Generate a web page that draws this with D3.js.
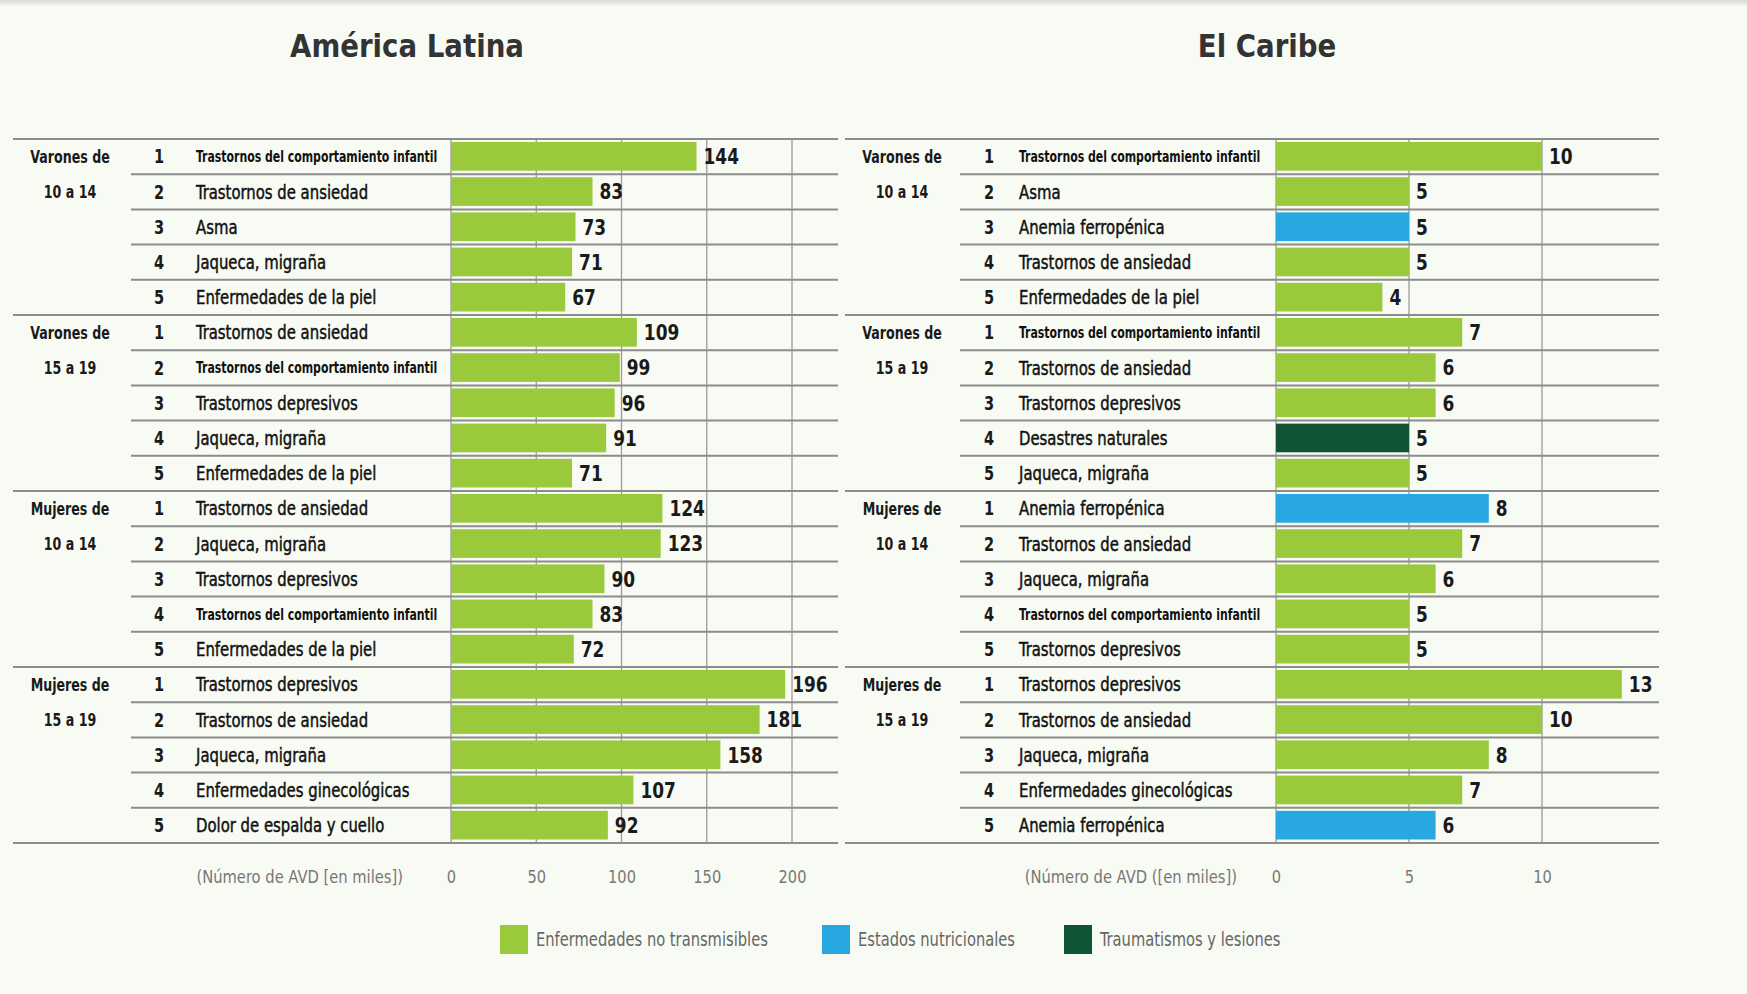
<!DOCTYPE html>
<html>
<head>
<meta charset="utf-8">
<script src="https://cdn.jsdelivr.net/npm/d3@7"></script>
<style>
  body { margin: 0; background: #f8fbf3; }
  svg { display: block; }
  text { font-family: "Liberation Sans Narrow", "DejaVu Sans Condensed", "Liberation Sans", sans-serif; font-stretch: condensed; }
</style>
</head>
<body>
<div id="chart"></div>
<script>
// grupos de edad
const groupLabels = [["Varones de", "10 a 14"], ["Varones de", "15 a 19"], ["Mujeres de", "10 a 14"], ["Mujeres de", "15 a 19"]];

// America Latina
const latCategories = [
  "Trastornos del comportamiento infantil", "Trastornos de ansiedad", "Asma", "Jaqueca, migraña", "Enfermedades de la piel",
  "Trastornos de ansiedad", "Trastornos del comportamiento infantil", "Trastornos depresivos", "Jaqueca, migraña", "Enfermedades de la piel",
  "Trastornos de ansiedad", "Jaqueca, migraña", "Trastornos depresivos", "Trastornos del comportamiento infantil", "Enfermedades de la piel",
  "Trastornos depresivos", "Trastornos de ansiedad", "Jaqueca, migraña", "Enfermedades ginecológicas", "Dolor de espalda y cuello"
];
const latValues = [144, 83, 73, 71, 67, 109, 99, 96, 91, 71, 124, 123, 90, 83, 72, 196, 181, 158, 107, 92];
const latTypes = ["nt","nt","nt","nt","nt","nt","nt","nt","nt","nt","nt","nt","nt","nt","nt","nt","nt","nt","nt","nt"];
const latTicks = [0, 50, 100, 150, 200];

// El Caribe
const carCategories = [
  "Trastornos del comportamiento infantil", "Asma", "Anemia ferropénica", "Trastornos de ansiedad", "Enfermedades de la piel",
  "Trastornos del comportamiento infantil", "Trastornos de ansiedad", "Trastornos depresivos", "Desastres naturales", "Jaqueca, migraña",
  "Anemia ferropénica", "Trastornos de ansiedad", "Jaqueca, migraña", "Trastornos del comportamiento infantil", "Trastornos depresivos",
  "Trastornos depresivos", "Trastornos de ansiedad", "Jaqueca, migraña", "Enfermedades ginecológicas", "Anemia ferropénica"
];
const carValues = [10, 5, 5, 5, 4, 7, 6, 6, 5, 5, 8, 7, 6, 5, 5, 13, 10, 8, 7, 6];
const carTypes = ["nt","nt","nut","nt","nt","nt","nt","nt","tra","nt","nut","nt","nt","nt","nt","nt","nt","nt","nt","nut"];
const carTicks = [0, 5, 10];

const legendKeys = ["nt", "nut", "tra"];
const legendLabels = ["Enfermedades no transmisibles", "Estados nutricionales", "Traumatismos y lesiones"];

const color = d3.scaleOrdinal().domain(legendKeys).range(["#9aca3c", "#27a8e0", "#0f5535"]);

const width = 1747, height = 994;
const topY = 139, rowH = 35.2, nRows = 20;
const bottomY = topY + rowH * nRows;

const svg = d3.select("#chart").append("svg")
  .attr("width", width)
  .attr("height", height);

svg.append("rect").attr("width", width).attr("height", height).attr("fill", "#f8fbf3");
// sombra gris arriba
const grad = svg.append("defs").append("linearGradient").attr("id", "shade").attr("x1", 0).attr("x2", 0).attr("y1", 0).attr("y2", 1);
grad.append("stop").attr("offset", 0).attr("stop-color", "#d9d9d9");
grad.append("stop").attr("offset", 1).attr("stop-color", "#f8fbf3");
svg.append("rect").attr("width", width).attr("height", 7).attr("fill", "url(#shade)");

const y = d3.scaleBand()
  .domain(d3.range(nRows))
  .range([topY, bottomY])
  .padding(0);

// texto estrecho: la fuente original es condensada
const squeeze = (xf, yf, sx) => (d, i) => `translate(${xf(d, i)},${yf(d, i)}) scale(${sx},1)`;
const rowMid = (d, i) => y(i) + y.bandwidth() / 2;

function panel(opt) {
  const g = svg.append("g");
  const x = d3.scaleLinear().domain([0, opt.max]).range([opt.barX, opt.barEnd]);

  g.append("text")
    .attr("transform", `translate(${opt.titleX},57) scale(0.96,1)`)
    .attr("text-anchor", "middle")
    .style("font-size", "32px").style("font-weight", "bold").style("fill", "#333")
    .text(opt.title);

  // lineas verticales
  g.selectAll(".grid").data(opt.ticks).enter().append("line")
    .attr("x1", d => x(d)).attr("x2", d => x(d))
    .attr("y1", topY).attr("y2", bottomY)
    .attr("stroke", "#9a9a9a").attr("stroke-width", 1.3);

  // separadores
  g.selectAll(".sep").data(d3.range(nRows + 1)).enter().append("line")
    .attr("x1", d => d % 5 === 0 ? opt.lineX0 : opt.subX0)
    .attr("x2", opt.lineX1)
    .attr("y1", d => topY + d * rowH).attr("y2", d => topY + d * rowH)
    .attr("stroke", "#8c8c8c").attr("stroke-width", 2);

  const rows = g.selectAll(".row").data(opt.values).enter().append("g");

  rows.append("rect")
    .attr("x", x(0))
    .attr("y", (d, i) => y(i) + 3)
    .attr("height", y.bandwidth() - 6.5)
    .attr("width", d => x(d) - x(0))
    .attr("fill", (d, i) => color(opt.types[i]));

  rows.append("text")
    .attr("transform", squeeze(d => x(d) + 7, rowMid, 0.9))
    .attr("dy", ".36em")
    .style("font-size", "21px").style("font-weight", "bold").style("fill", "#1a1a1a")
    .text(d => d);

  rows.append("text")
    .attr("transform", squeeze(() => opt.rankX, rowMid, 0.85))
    .attr("dy", ".36em")
    .attr("text-anchor", "middle")
    .style("font-size", "19px").style("font-weight", "bold").style("fill", "#1a1a1a")
    .text((d, i) => i % 5 + 1);

  rows.append("text")
    .attr("transform", (d, i) => squeeze(() => opt.catX, rowMid, opt.categories[i].length > 30 ? 0.81 : 0.87)(d, i))
    .attr("dy", ".36em")
    .style("font-size", (d, i) => opt.categories[i].length > 30 ? "15px" : "19px")
    .style("font-weight", (d, i) => opt.categories[i].length > 30 ? "bold" : "normal")
    .style("fill", "#111")
    .style("stroke", "#111")
    .style("stroke-width", (d, i) => opt.categories[i].length > 30 ? 0 : 0.45)
    .text((d, i) => opt.categories[i]);

  // etiquetas de grupo
  groupLabels.forEach((lab, gi) => {
    lab.forEach((t, li) => {
      g.append("text")
        .attr("transform", `translate(${opt.groupX},${rowMid(null, gi * 5 + li)}) scale(0.78,1)`)
        .attr("dy", ".36em")
        .attr("text-anchor", "middle")
        .style("font-size", "18px").style("font-weight", "bold").style("fill", "#1a1a1a")
        .text(t);
    });
  });

  // eje
  const axis = g.append("g")
    .attr("transform", `translate(0,${bottomY})`)
    .call(d3.axisBottom(x).tickValues(opt.ticks).tickSize(0).tickPadding(27));
  axis.select(".domain").remove();
  axis.selectAll("text")
    .attr("font-family", null)
    .attr("transform", "scale(0.9,1)")
    .style("font-size", "18px").style("fill", "#777");

  g.append("text")
    .attr("transform", `translate(${opt.captionX},${bottomY + 34}) scale(0.91,1)`)
    .attr("dy", ".36em")
    .attr("text-anchor", "end")
    .style("font-size", "18px").style("fill", "#777")
    .text(opt.caption);
}

panel({
  title: "América Latina", titleX: 407,
  categories: latCategories, values: latValues, types: latTypes, ticks: latTicks,
  max: 200, barX: 451, barEnd: 792,
  lineX0: 13, subX0: 131, lineX1: 838,
  groupX: 70, rankX: 159, catX: 196,
  caption: "(Número de AVD [en miles])", captionX: 403
});

panel({
  title: "El Caribe", titleX: 1267,
  categories: carCategories, values: carValues, types: carTypes, ticks: carTicks,
  max: 10, barX: 1276, barEnd: 1542,
  lineX0: 845, subX0: 960, lineX1: 1659,
  groupX: 902, rankX: 989, catX: 1019,
  caption: "(Número de AVD ([en miles])", captionX: 1237
});

// leyenda
const legendX = [500, 822, 1064];
const legend = svg.selectAll(".legend").data(legendKeys).enter().append("g")
  .attr("transform", (d, i) => `translate(${legendX[i]},925)`);
legend.append("rect")
  .attr("width", 28).attr("height", 29)
  .attr("fill", d => color(d));
legend.append("text")
  .attr("transform", "translate(36,14.5) scale(0.86,1)")
  .attr("dy", ".36em")
  .style("font-size", "19px").style("fill", "#666")
  .text((d, i) => legendLabels[i]);
</script>
</body>
</html>
